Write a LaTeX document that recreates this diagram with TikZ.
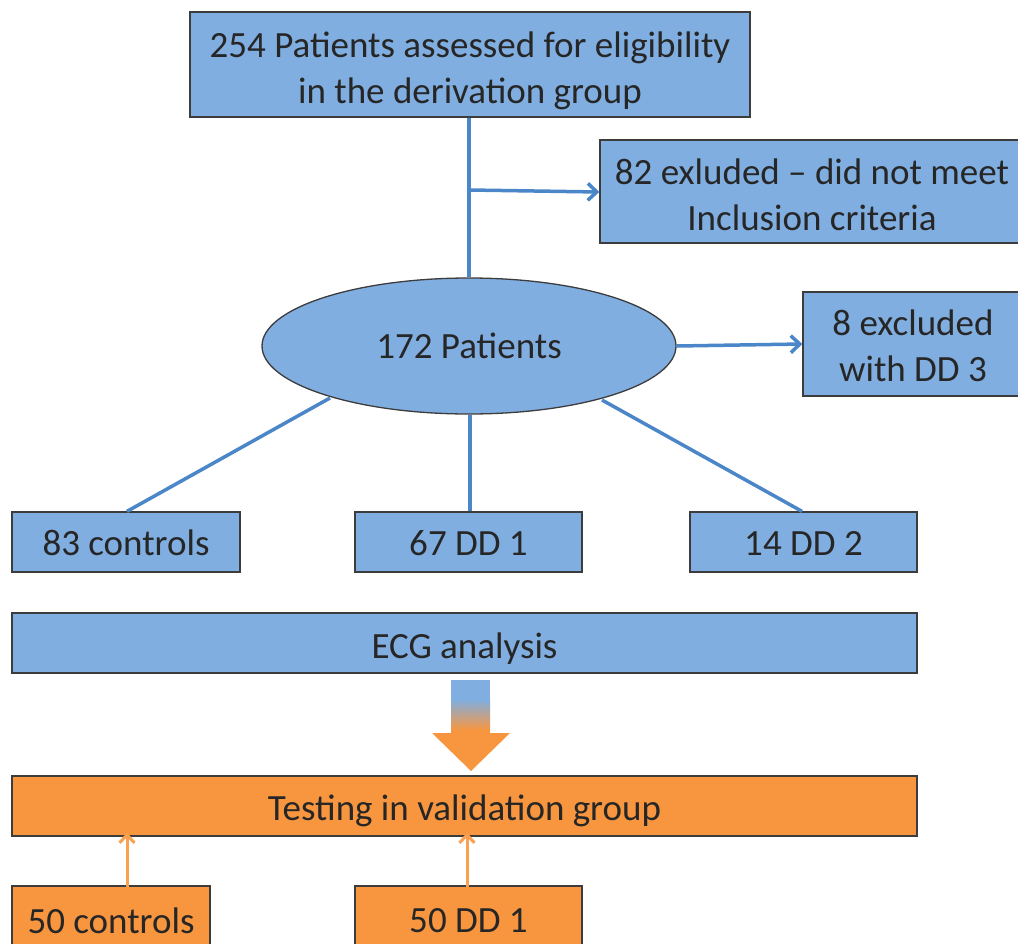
\documentclass[tikz,border=0pt]{standalone}
\usepackage{fontspec}
\setmainfont{Carlito}
\usetikzlibrary{arrows.meta,shapes.geometric}
\definecolor{bfill}{RGB}{128,174,224}
\definecolor{bline}{RGB}{74,134,200}
\definecolor{ofill}{RGB}{248,150,64}
\definecolor{oline}{RGB}{250,160,80}
\definecolor{bord}{RGB}{60,60,60}
\newcommand{\dn}[2]{\raisebox{-#1pt}[\height][\depth]{\begin{tabular}{@{}c@{}}#2\end{tabular}}}
\tikzset{
  bbox/.style={draw=bord,line width=1.3pt,fill=bfill,inner sep=0pt,align=center,font=\fontsize{37}{46}\selectfont,text=black!85},
  obox/.style={bbox,fill=ofill},
  conn/.style={draw=bline,line width=3.5pt},
  carrow/.style={conn,-{Straight Barb[length=9pt,width=17pt,line width=3.5pt]}},
  oarrow/.style={draw=oline,line width=3pt,-{Straight Barb[length=8pt,width=15pt,line width=3pt]}},
}
\begin{document}
\begin{tikzpicture}[x=1pt,y=-1pt]
\useasboundingbox (0,0) rectangle (1018,943);
\node[bbox,minimum width=560pt,minimum height=105pt] (top) at (470,64.5) {\dn{7}{254 Patients assessed for eligibility\\in the derivation group}};
\node[bbox,minimum width=424pt,minimum height=103pt] (ex1) at (812,191.5) {\dn{7}{82 exluded -- did not meet\\Inclusion criteria}};
\node[bbox,ellipse,minimum width=414pt,minimum height=136pt] (pat) at (469,346) {172 Patients};
\node[bbox,minimum width=220pt,minimum height=104pt] (ex2) at (913,344) {\dn{5}{8 excluded\\with DD 3}};
\node[bbox,minimum width=228pt,minimum height=60pt] (c83) at (126,542) {\dn{4}{83 controls}};
\node[bbox,minimum width=227pt,minimum height=60pt] (d67) at (468.5,542) {\dn{4}{67 DD 1}};
\node[bbox,minimum width=227pt,minimum height=60pt] (d14) at (803.5,542) {\dn{4}{14 DD 2}};
\node[bbox,minimum width=905pt,minimum height=60pt] (ecg) at (464.5,643) {\dn{6}{ECG analysis}};
\node[obox,minimum width=905pt,minimum height=60pt] (test) at (464.5,806) {\dn{5}{Testing in validation group}};
\node[obox,minimum width=198pt,minimum height=70pt] (c50) at (111,921) {50 controls};
\node[obox,minimum width=227pt,minimum height=70pt] (d50) at (468.5,921) {50 DD 1};
% connectors
\coordinate (br) at (469,190);
\draw[conn] (top.south -| br) -- (pat.north -| br);
\draw[carrow] (br) -- (ex1.west |- 0,192);
\draw[carrow] (pat.east) -- (ex2.west);
\draw[conn] (330,398) -- (c83.north -| 127,0);
\draw[conn] (pat.south -| 470,0) -- (d67.north -| 470,0);
\draw[conn] (602,400) -- (d14.north -| 802,0);
\draw[oarrow] ([yshift=-3pt]c50.north -| 127,0) -- ([yshift=4pt]test.south -| 127,0);
\draw[oarrow] ([yshift=-3pt]d50.north -| 467,0) -- ([yshift=4pt]test.south -| 467,0);
% gradient arrow
\fill[bfill] (451,680) rectangle (490,700);
\shade[top color=bfill,bottom color=ofill] (451,699.5) rectangle (490,730);
\fill[ofill] (451,729.5) rectangle (490,734);
\fill[ofill] (432,733) -- (510,733) -- (471,771) -- cycle;
\end{tikzpicture}
\end{document}
